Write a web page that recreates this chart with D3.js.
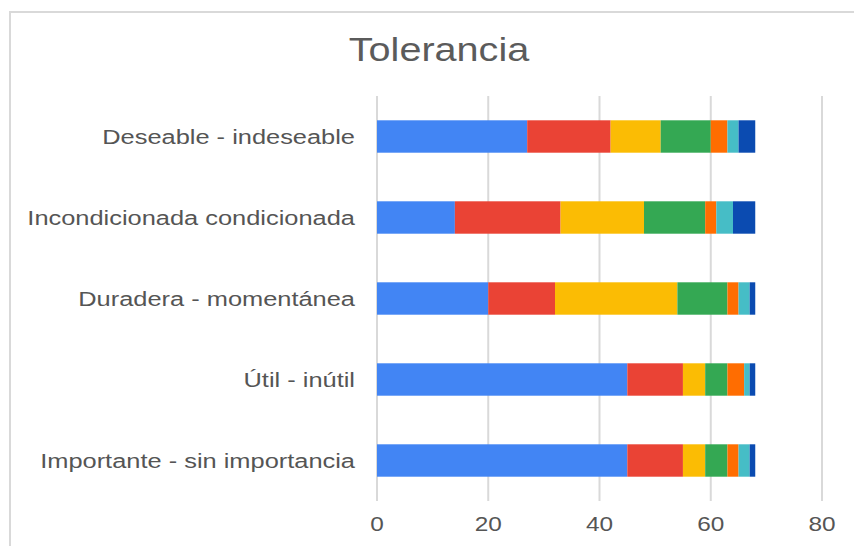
<!DOCTYPE html>
<meta charset="utf-8">
<script src="https://cdn.jsdelivr.net/npm/d3@7"></script>
<style>
body {
  margin: 0;
  background-color: #ffffff;
}
svg text {
  font-family: "Liberation Sans", Arial, sans-serif;
}
.grid line {
  stroke: #d9d9d9;
  stroke-width: 2px;
}
</style>
<body>
<div id="chart"></div>
</body>
<script>
var categories = ["Deseable - indeseable", "Incondicionada condicionada", "Duradera - momentánea", "Útil - inútil", "Importante - sin importancia"];
var serie1 = [27, 14, 20, 45, 45];
var serie2 = [15, 19, 12, 10, 10];
var serie3 = [9, 15, 22, 4, 4];
var serie4 = [9, 11, 9, 4, 4];
var serie5 = [3, 2, 2, 3, 2];
var serie6 = [2, 3, 2, 1, 2];
var serie7 = [3, 4, 1, 1, 1];
var ticks = [0, 20, 40, 60, 80];
var colors = ["#4285F4", "#EA4335", "#FBBC04", "#34A853", "#FF6D01", "#46BDC6", "#0B4BB1"];

var series = [serie1, serie2, serie3, serie4, serie5, serie6, serie7];
var keys = series.map(function(s, i) { return "s" + i; });
var rows = categories.map(function(c, j) {
  var r = {cat: c};
  series.forEach(function(s, i) { r["s" + i] = s[j]; });
  return r;
});

var width = 854, height = 546;
var stretch = 1.27;

var svg = d3.select("#chart").append("svg")
    .attr("width", width)
    .attr("height", height);

// frame (only top and left edges show)
svg.append("path")
    .attr("d", "M10,546V12H854")
    .attr("fill", "none")
    .attr("stroke", "#d9d9d9")
    .attr("stroke-width", 2);

svg.append("text")
    .attr("transform", "translate(439,61) scale(1.2,1)")
    .attr("text-anchor", "middle")
    .style("font-size", "33px")
    .style("fill", "#5b5b5b")
    .text("Tolerancia");

var x = d3.scaleLinear().domain([0, 80]).range([377, 822]);
var y = d3.scaleBand().domain(categories).range([96, 501]).paddingInner(0.6).paddingOuter(0.3);

svg.append("g")
    .attr("class", "grid")
    .selectAll("line")
    .data(ticks)
    .enter().append("line")
    .attr("x1", function(d) { return x(d); })
    .attr("x2", function(d) { return x(d); })
    .attr("y1", 96)
    .attr("y2", 501);

var stacked = d3.stack().keys(keys)(rows);

svg.selectAll(".layer")
    .data(stacked)
    .enter().append("g")
    .attr("class", "layer")
    .attr("fill", function(d, i) { return colors[i]; })
    .selectAll("rect")
    .data(function(d) { return d; })
    .enter().append("rect")
    .attr("x", function(d) { return x(d[0]); })
    .attr("width", function(d) { return x(d[1]) - x(d[0]); })
    .attr("y", function(d) { return y(d.data.cat); })
    .attr("height", y.bandwidth());

svg.selectAll(".cat")
    .data(categories)
    .enter().append("text")
    .attr("class", "cat")
    .attr("transform", function(d) { return "translate(355," + (y(d) + y.bandwidth() / 2) + ") scale(" + stretch + ",1)"; })
    .attr("text-anchor", "end")
    .attr("dy", "0.36em")
    .style("font-size", "20px")
    .style("fill", "#555555")
    .text(function(d) { return d; });

svg.selectAll(".tick")
    .data(ticks)
    .enter().append("text")
    .attr("class", "tick")
    .attr("transform", function(d) { return "translate(" + x(d) + ",531) scale(1.22,1)"; })
    .attr("text-anchor", "middle")
    .style("font-size", "20px")
    .style("fill", "#555555")
    .text(function(d) { return d; });
</script>
